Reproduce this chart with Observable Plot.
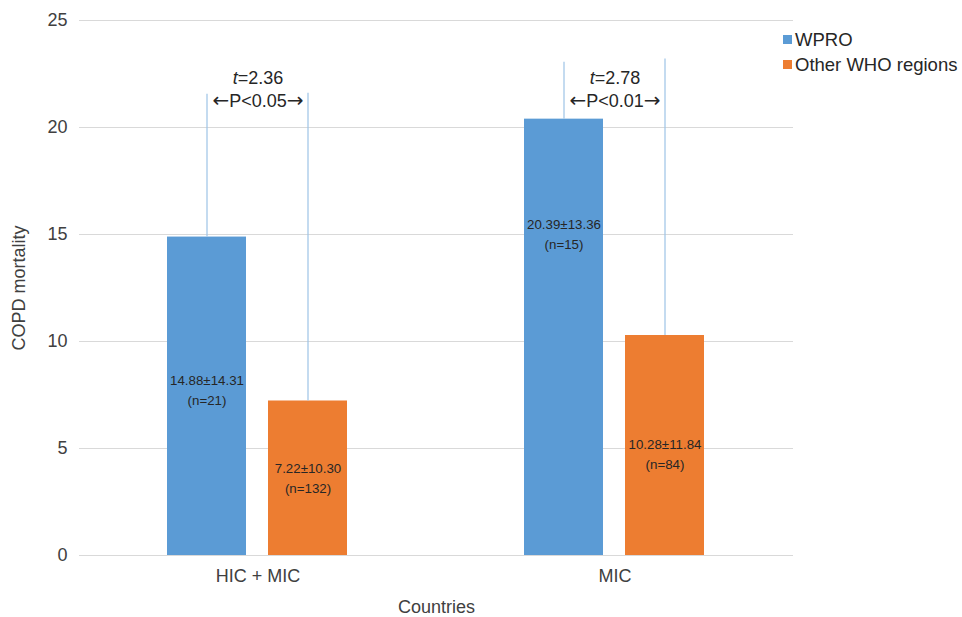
<!DOCTYPE html>
<html><head><meta charset="utf-8">
<script src="https://cdn.jsdelivr.net/npm/d3@7"></script>
<script src="https://cdn.jsdelivr.net/npm/@observablehq/plot@0.6"></script>
<style>
body{margin:0;background:#fff;font-family:"Liberation Sans",Arial,Helvetica,sans-serif;}
#wrap{position:relative;width:962px;height:617px;}
#legend{position:absolute;left:783px;top:27px;font-size:18.5px;color:#262626;line-height:25px;}
#legend .sw{display:inline-block;width:9px;height:9px;margin-right:3px;vertical-align:2px;}
</style></head><body><div id="wrap"><div id="legend"></div></div>
<script>
// ---- data ----
const categories = ["HIC + MIC", "MIC"];
const groups = ["WPRO", "Other WHO regions"];
const groupColors = ["#5b9bd5", "#ed7d31"];
// order: [HIC+MIC WPRO, HIC+MIC Other, MIC WPRO, MIC Other]
const barCategory = ["HIC + MIC", "HIC + MIC", "MIC", "MIC"];
const barGroup = ["WPRO", "Other WHO regions", "WPRO", "Other WHO regions"];
const means = [14.88, 7.22, 20.39, 10.28];
const sds = [14.31, 10.30, 13.36, 11.84];
const ns = [21, 132, 15, 84];
const errTop = [21.55, 21.6, 23.05, 23.2];     // drawn tops of the upward error lines
const labelAt = [7.78, 3.67, 15.07, 4.79];     // value at which each bar's text sits
const tValues = ["2.36", "2.78"];
const pValues = ["P<0.05", "P<0.01"];
const yTicks = [0, 5, 10, 15, 20, 25];

const bars = means.map((m, i) => ({
  cat: barCategory[i], group: barGroup[i], mean: m, top: errTop[i],
  lab: labelAt[i], text: `${m.toFixed(2)}±${sds[i].toFixed(2)}\n(n=${ns[i]})`
}));
const notes = categories.map((c, i) => ({cat: c, t: `t=${tValues[i]}`, p: `←${pValues[i]}→`}));

const font = `"Liberation Sans", Arial, Helvetica, sans-serif`;
const chart = Plot.plot({
  width: 962, height: 617,
  marginLeft: 78, marginRight: 169, marginTop: 20, marginBottom: 62,
  style: {fontFamily: font, fontSize: "18px", color: "#404040", background: "#fff"},
  fx: {domain: categories, padding: 0, label: "Countries"},
  x: {domain: groups, paddingInner: 0.2157, paddingOuter: 0.86, axis: null},
  y: {domain: [0, 25], label: "COPD mortality"},
  color: {domain: groups, range: groupColors},
  marks: [
    Plot.gridY(yTicks, {stroke: "#d9d9d9", strokeOpacity: 1, strokeWidth: 1}),
    Plot.axisY(yTicks, {tickSize: 0, tickPadding: 12, fontSize: 18, label: "COPD mortality",
      labelAnchor: "center", labelArrow: "none", labelOffset: 67}),
    Plot.axisFx({anchor: "bottom", tickSize: 0, tickPadding: 14, fontSize: 18, label: "Countries",
      labelAnchor: "center", labelArrow: "none", labelOffset: 57}),
    Plot.barY(bars, {fx: "cat", x: "group", y: "mean", fill: "group"}),
    Plot.ruleX(bars, {fx: "cat", x: "group", y1: "mean", y2: "top", stroke: "#9dc3e6", strokeWidth: 1.2}),
    Plot.text(bars, {fx: "cat", x: "group", y: "lab", text: "text", fontSize: 13.3, lineHeight: 1.5,
      fill: "#262626", lineAnchor: "middle"}),
    Plot.text(notes, {fx: "cat", y: 22.3, text: "t", fontSize: 18, fill: "#262626", frameAnchor: "middle"}),
    Plot.text(notes, {fx: "cat", y: 21.25, text: "p", fontSize: 18, fill: "#262626", frameAnchor: "middle"})
  ]
});
// italic "t" and wider arrows
d3.select(chart).selectAll("text").each(function () {
  const s = this.textContent;
  if (this.childElementCount !== 0) return;
  const el = d3.select(this);
  if (/^t=/.test(s)) {
    el.text(null);
    el.append("tspan").attr("font-style", "italic").text("t");
    el.append("tspan").text(s.slice(1));
  } else if (/^←.*→$/.test(s)) {
    el.text(null);
    el.append("tspan").attr("font-family", "DejaVu Sans").attr("font-size", 20).text("←");
    el.append("tspan").text(s.slice(1, -1));
    el.append("tspan").attr("font-family", "DejaVu Sans").attr("font-size", 20).text("→");
  }
});
document.getElementById("wrap").appendChild(chart);
document.getElementById("legend").innerHTML = groups.map((g, i) =>
  `<div><span class="sw" style="background:${groupColors[i]}"></span>${g}</div>`).join("");
</script>
</body></html>
